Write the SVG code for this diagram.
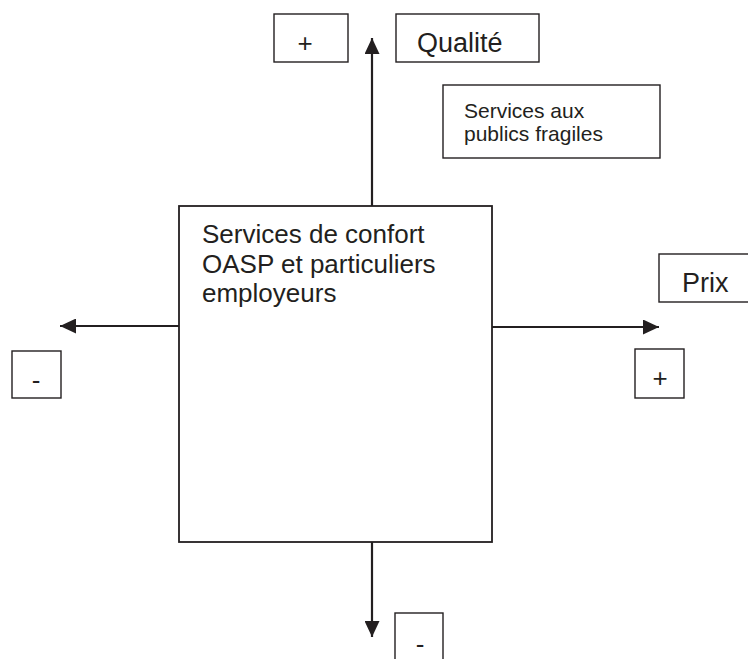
<svg xmlns="http://www.w3.org/2000/svg" width="748" height="659" viewBox="0 0 748 659">
<style>
.box{fill:#fff;stroke:#231f20;stroke-width:1.4}
.main{fill:#fff;stroke:#231f20;stroke-width:1.8}
.t{font-family:"Liberation Sans",Arial,sans-serif;fill:#231f20}
.conn{stroke:#231f20;stroke-width:2.2;fill:none}
</style>
<defs>
<marker id="ah" viewBox="0 0 16 15" refX="16" refY="7.5" markerWidth="16" markerHeight="15" markerUnits="userSpaceOnUse" orient="auto">
<path d="M0,0 L16,7.5 L0,15 Z" fill="#231f20"/>
</marker>
</defs>
<rect width="748" height="659" fill="#fff"/>
<g id="connectors">
<line class="conn" x1="372" y1="206" x2="372" y2="38" marker-end="url(#ah)"/>
<line class="conn" x1="491" y1="327" x2="659" y2="327" marker-end="url(#ah)"/>
<line class="conn" x1="179" y1="326" x2="60" y2="326" marker-end="url(#ah)"/>
<line class="conn" x1="372" y1="542" x2="372" y2="637" marker-end="url(#ah)"/>
</g>
<g id="main">
<rect class="main" x="179" y="206" width="313" height="336"/>
<text class="t" font-size="26" x="202" y="243">Services de confort</text>
<text class="t" font-size="26" x="202" y="273">OASP et particuliers</text>
<text class="t" font-size="26" x="202" y="302">employeurs</text>
</g>
<g id="plus-top">
<rect class="box" x="274" y="14" width="74" height="48"/>
<text class="t" font-size="26" x="305" y="52" text-anchor="middle">+</text>
</g>
<g id="qualite">
<rect class="box" x="396" y="14" width="143" height="48"/>
<text class="t" font-size="27" x="417" y="52">Qualité</text>
</g>
<g id="fragiles">
<rect class="box" x="443" y="85" width="217" height="73"/>
<text class="t" font-size="21" x="464" y="118">Services aux</text>
<text class="t" font-size="21" x="464" y="141">publics fragiles</text>
</g>
<g id="prix">
<rect class="box" x="659" y="254" width="100" height="48"/>
<text class="t" font-size="27" x="682" y="292">Prix</text>
</g>
<g id="plus-right">
<rect class="box" x="635" y="349" width="49" height="49"/>
<text class="t" font-size="26" x="660" y="387" text-anchor="middle">+</text>
</g>
<g id="minus-left">
<rect class="box" x="12" y="351" width="49" height="47"/>
<text class="t" font-size="26" x="36" y="389" text-anchor="middle">-</text>
</g>
<g id="minus-bottom">
<rect class="box" x="395" y="613" width="48" height="60"/>
<text class="t" font-size="26" x="420" y="653" text-anchor="middle">-</text>
</g>
</svg>
